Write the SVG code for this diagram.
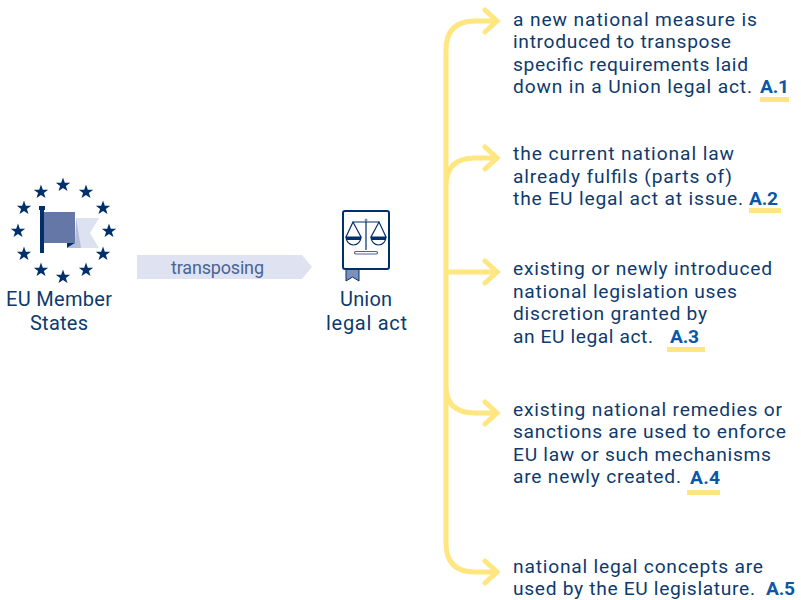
<svg xmlns="http://www.w3.org/2000/svg" width="801" height="600" viewBox="0 0 801 600">
<style>
text{font-family:Roboto,"Open Sans","Liberation Sans",sans-serif}
.t{font-size:19.200px;fill:#0e3a6e}
.c{font-size:20px;fill:#0e3a6e;text-anchor:middle}
.a{font-weight:700;fill:#0a57a6}
.u{fill:#ffe680}
.s{fill:#00306b}
.y{fill:none;stroke:#ffe680;stroke-width:5}
</style>
<defs><polygon id="st" points="0,-7.500 1.800,-2.300 7.200,-2.300 2.900,0.900 4.500,6.100 0,3 -4.500,6.100 -2.900,0.900 -7.200,-2.300 -1.800,-2.300"/></defs>
<g id="connectors">
<path class="y" d="M446 543V50Q446 21 475 21H496M446 186Q446 158 475 158H496M446 272H496M446 386Q446 413 475 413H496M446 543Q446 572 475 572H496"/>
<path class="y" stroke-linecap="round" d="M485 10L497 21L485 32M485 147L497 158L485 169M485 261L497 272L485 283M485 402L497 413L485 424M485 561L497 572L485 583"/>
</g>
<g id="eu-member-states">
<g class="s">
<use href="#st" x="63" y="185"/><use href="#st" x="86" y="192"/><use href="#st" x="103" y="208"/><use href="#st" x="109" y="231"/><use href="#st" x="103" y="254"/><use href="#st" x="86" y="270"/><use href="#st" x="63" y="277"/><use href="#st" x="41" y="270"/><use href="#st" x="24" y="254"/><use href="#st" x="18" y="231"/><use href="#st" x="24" y="208"/><use href="#st" x="41" y="192"/>
</g>
<polygon points="76,218 99,218 90,233 99,248 76,248" fill="#dde2f0"/>
<polygon points="76,218 81,248 68,248 75,243" fill="#b3bdd8"/>
<rect x="43" y="212" width="32" height="31" fill="#6577a6"/>
<polygon points="67,248 75,243 67,243" fill="#00306b"/>
<rect x="40" y="208" width="4" height="45" fill="#00306b"/>
<rect x="39" y="206" width="6" height="4" fill="#00306b"/>
<text class="c" x="59" y="306" textLength="106">EU Member</text>
<text class="c" x="59" y="330" textLength="58">States</text>
</g>
<g id="transposing">
<polygon points="137,255 302,255 312,267 302,279 137,279" fill="#dfe3f1"/>
<text x="217.500" y="274" font-size="18" fill="#4a6594" text-anchor="middle" textLength="93">transposing</text>
</g>
<g id="union-legal-act">
<polygon points="346,269 359,269 359,281 352.500,277 346,281" fill="#7d8fbb" stroke="#00306b" stroke-width="1"/>
<rect x="343" y="211" width="46" height="58" rx="2" fill="#fff" stroke="#00306b" stroke-width="2"/>
<g fill="none" stroke="#00306b" stroke-width="1.200">
<path d="M353 222H379M366 220V250"/>
<path d="M353 222L346 237H361ZM379 222L371 237H386Z"/>
<path d="M346 237A7.500 8 0 0 0 361 237M371 237A7.500 8 0 0 0 386 237"/>
<rect x="354.500" y="251.500" width="23" height="2.500" rx="1.200" stroke="#4a6594"/>
</g>
<rect x="346" y="237" width="15" height="3" fill="#00306b"/><rect x="371" y="237" width="15" height="3" fill="#00306b"/>
<circle cx="366" cy="220" r="1.500" fill="#7d8fbb"/>
<text class="c" x="366" y="306" textLength="52">Union</text>
<text class="c" x="366.500" y="330" textLength="81">legal act</text>
</g>
<g id="a1">
<text class="t"><tspan x="513" y="25.500" textLength="244">a new national measure is</tspan>
<tspan x="513" y="48" textLength="218">introduced to transpose</tspan>
<tspan x="513" y="70.500" textLength="235">specific requirements laid</tspan>
<tspan x="513" y="93" textLength="239">down in a Union legal act.</tspan>
<tspan class="a" x="760" y="93" textLength="29">A.1</tspan></text>
<rect class="u" x="760" y="97" width="29" height="5"/>
</g>
<g id="a2">
<text class="t"><tspan x="513" y="160" textLength="221">the current national law</tspan>
<tspan x="513" y="182.500" textLength="219">already fulfils (parts of)</tspan>
<tspan x="513" y="205" textLength="230">the EU legal act at issue.</tspan>
<tspan class="a" x="749" y="205" textLength="29">A.2</tspan></text>
<rect class="u" x="749" y="208" width="32" height="5"/>
</g>
<g id="a3">
<text class="t"><tspan x="513" y="275" textLength="259">existing or newly introduced</tspan>
<tspan x="513" y="297.500" textLength="224">national legislation uses</tspan>
<tspan x="513" y="320" textLength="194">discretion granted by</tspan>
<tspan x="513" y="342.500" textLength="140">an EU legal act.</tspan>
<tspan class="a" x="670" y="342.500" textLength="29">A.3</tspan></text>
<rect class="u" x="667" y="347" width="38" height="5"/>
</g>
<g id="a4">
<text class="t"><tspan x="513" y="415.500" textLength="269">existing national remedies or</tspan>
<tspan x="513" y="438" textLength="273">sanctions are used to enforce</tspan>
<tspan x="513" y="460.500" textLength="258">EU law or such mechanisms</tspan>
<tspan x="513" y="483" textLength="168">are newly created.</tspan>
<tspan class="a" x="690" y="484" textLength="30">A.4</tspan></text>
<rect class="u" x="687" y="490" width="33" height="5"/>
</g>
<g id="a5">
<text class="t"><tspan x="513" y="572.500" textLength="250">national legal concepts are</tspan>
<tspan x="513" y="595" textLength="242">used by the EU legislature.</tspan>
<tspan class="a" x="766" y="595" textLength="29">A.5</tspan></text>
</g>
</svg>
